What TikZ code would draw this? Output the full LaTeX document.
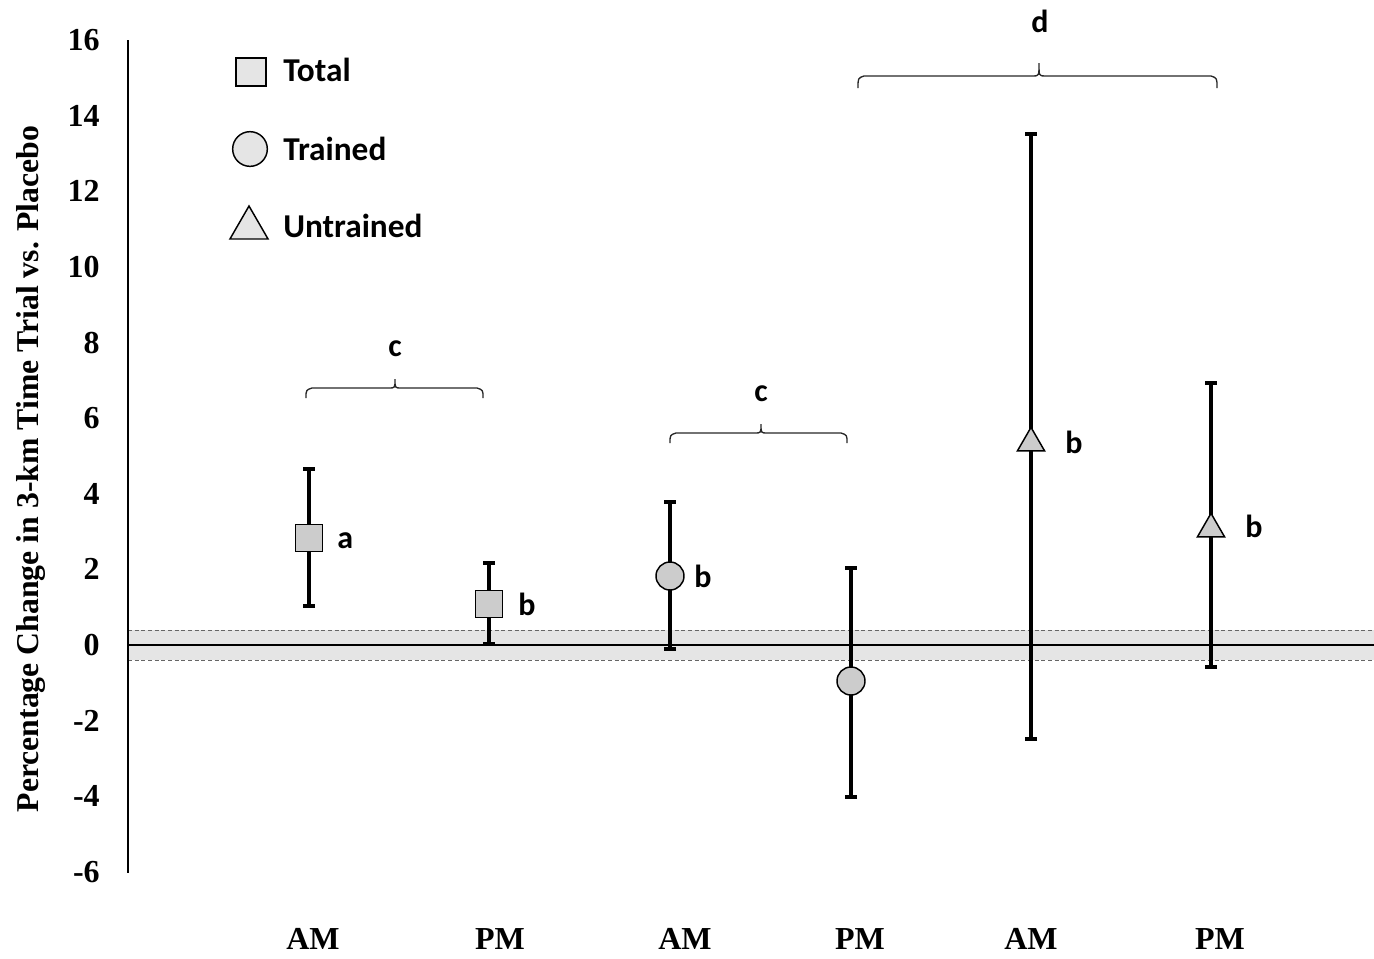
\documentclass[tikz,border=0pt]{standalone}
\usepackage{fontspec}
\setmainfont{Liberation Serif}
\newfontfamily\calib{Carlito}
\usetikzlibrary{arrows.meta,shapes.geometric}
\definecolor{markgray}{gray}{0.80}
\definecolor{leggray}{gray}{0.90}
\definecolor{bandgray}{gray}{0.90}
\begin{document}
\begin{tikzpicture}[x=0.75pt,y=-0.75pt,
  errbar/.style={line width=3pt,{Bar[width=9pt]}-{Bar[width=9pt]}},
  mk/.style={draw,line width=1.1pt,fill=markgray,inner sep=0pt},
  sq/.style={mk,rectangle,minimum size=20.5pt},
  circ/.style={mk,circle,minimum size=21pt},
  tri/.style={mk,regular polygon,regular polygon sides=3,minimum size=23.5pt},
  ticklab/.style={anchor=east,inner sep=0pt,font=\fontsize{24}{24}\selectfont\bfseries},
  xlab/.style={anchor=base,inner sep=0pt,font=\fontsize{24}{24}\selectfont\bfseries},
  sig/.style={anchor=base west,inner sep=0pt,font=\calib\fontsize{24}{24}\selectfont\bfseries},
  bracelab/.style={anchor=base,inner sep=0pt,font=\calib\fontsize{24}{24}\selectfont\bfseries},
  legtext/.style={anchor=base west,inner sep=0pt,font=\calib\fontsize{25}{25}\selectfont\bfseries},
  brace/.style={line width=1pt,black!85},
  band/.style={black!60,line width=0.75pt,dash pattern=on 3pt off 2pt}]
\useasboundingbox (0,0) rectangle (1374,958);
% reference band
\fill[bandgray] (128,630) rectangle (1374,660);
\draw[band] (128,630) -- (1374,630);
\draw[band] (128,660) -- (1374,660);
\draw[line width=1.1pt] (128,645) -- (1374,645);
\draw[line width=1.6pt] (213,645) -- (234,645);
% axis
\draw[line width=1.5pt] (128,40) -- (128,873);
\foreach \v in {16,14,...,-6}{
  \node[ticklab] (t\v) at (100,{645-37.81*\v}) {\v};
}
\node[rotate=90,inner sep=0pt,font=\fontsize{23.8}{23.8}\selectfont\bfseries] (ylab) at (31,469) {Percentage Change in 3-km Time Trial vs. Placebo};
% x labels
\node[xlab] (x1) at (313,949) {AM};
\node[xlab] (x2) at (500,949) {PM};
\node[xlab] (x3) at (685,949) {AM};
\node[xlab] (x4) at (860,949) {PM};
\node[xlab] (x5) at (1031,949) {AM};
\node[xlab] (x6) at (1220,949) {PM};
% error bars
\coordinate (t1) at (309,467); \coordinate (b1) at (309,608);
\coordinate (t2) at (489,561); \coordinate (b2) at (489,646);
\coordinate (t3) at (670,500); \coordinate (b3) at (670,651);
\coordinate (t4) at (851,566); \coordinate (b4) at (851,799);
\coordinate (t5) at (1031,132); \coordinate (b5) at (1031,741);
\coordinate (t6) at (1211,381); \coordinate (b6) at (1211,669);
\foreach \i in {1,...,6}{\draw[errbar] (t\i) -- (b\i);}
% markers
\node[sq] (m1) at (309,538) {};
\node[sq] (m2) at (489,604) {};
\node[circ] (m3) at (670,576) {};
\node[circ] (m4) at (851,681) {};
\node[tri] (m5) at (1031,443) {};
\node[tri] (m6) at (1211,529) {};
% significance letters
\node[sig] (l1) at (337,548) {a};
\node[sig] (l2) at (518,615) {b};
\node[sig] (l3) at (694,587) {b};
\node[sig] (l5) at (1065,453) {b};
\node[sig] (l6) at (1245,537) {b};
% braces
\draw[brace] (306,398) .. controls (306,390) .. (312,388) -- (389,388) .. controls (395,388) .. (395,379) .. controls (395,388) .. (401,388) -- (477,388) .. controls (483,390) .. (483,398);
\node[bracelab] (c1) at (395,356) {c};
\draw[brace] (670,443) .. controls (670,435) .. (676,433) -- (755,433) .. controls (761,433) .. (761,424) .. controls (761,433) .. (767,433) -- (841,433) .. controls (847,435) .. (847,443);
\node[bracelab] (c2) at (761,401) {c};
\draw[brace] (858,88) .. controls (858,78) .. (864,76) -- (1033,76) .. controls (1039,76) .. (1039,63) .. controls (1039,76) .. (1045,76) -- (1211,76) .. controls (1217,78) .. (1217,88);
\node[bracelab] (d) at (1040,32) {d};
% legend
\node[mk,rectangle,minimum width=22.5pt,minimum height=21pt,fill=leggray] (lg1) at (251,72) {};
\node[legtext] (lt1) at (283,81) {Total};
\node[mk,circle,minimum size=26pt,fill=leggray] (lg2) at (250,149) {};
\node[legtext] (lt2) at (283,160) {Trained};
\node[mk,regular polygon,regular polygon sides=3,minimum size=33pt,fill=leggray] (lg3) at (249,228) {};
\node[legtext] (lt3) at (283,237) {Untrained};
\end{tikzpicture}
\end{document}
